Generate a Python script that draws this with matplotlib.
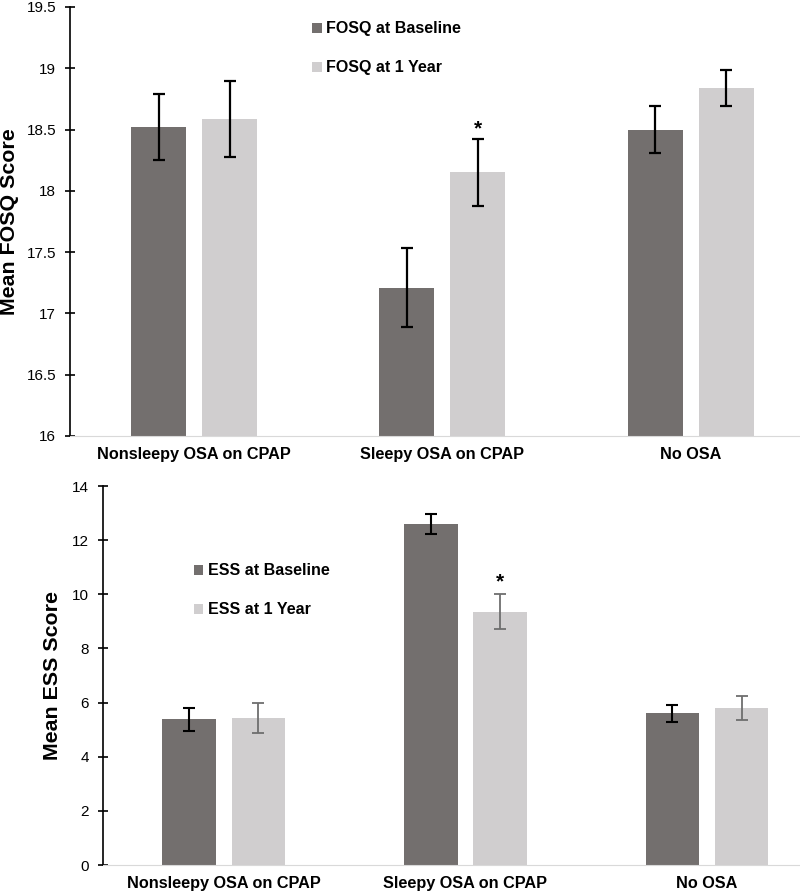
import matplotlib.pyplot as plt
import numpy as np

plt.rcParams['font.family'] = ['Liberation Sans', 'DejaVu Sans']

groups = ['Nonsleepy OSA on CPAP', 'Sleepy OSA on CPAP', 'No OSA']

fosq_base = [18.52, 17.21, 18.50]
fosq_base_err = [0.27, 0.32, 0.19]
fosq_1yr = [18.59, 18.15, 18.84]
fosq_1yr_err = [0.31, 0.27, 0.145]

ess_base = [5.38, 12.60, 5.60]
ess_base_err = [0.43, 0.38, 0.30]
ess_1yr = [5.43, 9.35, 5.80]
ess_1yr_err = [0.55, 0.65, 0.44]

dark = '#736f6e'
light = '#d0cecf'
w = 0.222
off = 0.143
x = np.arange(len(groups))

fig = plt.figure(figsize=(8, 8.93), dpi=100)


def style(ax, ymin, ymax, step, ylabel):
    ax.set_ylim(ymin, ymax)
    ax.set_yticks(np.arange(ymin, ymax + step / 2, step))
    ax.set_xlim(-0.5, 2.5)
    ax.set_xticks(x)
    ax.set_xticklabels(groups, fontsize=11.7, fontweight='bold')
    ax.tick_params(axis='x', length=0, pad=8)
    ax.tick_params(axis='y', direction='inout', length=7, width=1.2, labelsize=11, pad=6.5)
    ax.spines['top'].set_visible(False)
    ax.spines['right'].set_visible(False)
    ax.spines['bottom'].set_color('#d9d9d9')
    ax.spines['left'].set_color('black')
    ax.spines['left'].set_linewidth(1.2)
    ax.set_ylabel(ylabel, fontsize=15.4, fontweight='bold')


# top chart: FOSQ
ax1 = fig.add_axes([0.0875, 0.5118, 0.931, 0.4804])
ax1.bar(x - off, fosq_base, w, color=dark, label='FOSQ at Baseline')
ax1.bar(x + off, fosq_1yr, w, color=light, label='FOSQ at 1 Year')
ax1.errorbar(x - off, fosq_base, yerr=fosq_base_err, fmt='none', ecolor='black',
             elinewidth=1.6, capsize=4, capthick=1.6)
ax1.errorbar(x + off, fosq_1yr, yerr=fosq_1yr_err, fmt='none', ecolor='black',
             elinewidth=1.6, capsize=4, capthick=1.6)
style(ax1, 16, 19.5, 0.5, 'Mean FOSQ Score')
ax1.set_yticklabels(['16', '16.5', '17', '17.5', '18', '18.5', '19', '19.5'])
ax1.yaxis.set_label_coords(-0.068, 0.5)
ax1.text(1 + off, fosq_1yr[1] + fosq_1yr_err[1] + 0.01, '*', ha='center', va='bottom',
         fontsize=15, fontweight='bold')
ax1.legend(loc='upper left', bbox_to_anchor=(0.38, 0.985), bbox_transform=fig.transFigure,
           frameon=False, prop={'size': 11.5, 'weight': 'bold'}, handlelength=0.6,
           handleheight=0.6, handletextpad=0.3, labelspacing=1.5, borderpad=0)

# bottom chart: ESS
ax2 = fig.add_axes([0.12875, 0.03135, 0.906, 0.4244])
ax2.bar(x - off, ess_base, w, color=dark, label='ESS at Baseline')
ax2.bar(x + off, ess_1yr, w, color=light, label='ESS at 1 Year')
ax2.errorbar(x - off, ess_base, yerr=ess_base_err, fmt='none', ecolor='black',
             elinewidth=1.5, capsize=4, capthick=1.5)
ax2.errorbar(x + off, ess_1yr, yerr=ess_1yr_err, fmt='none', ecolor='#6e6e6e',
             elinewidth=1.3, capsize=4, capthick=1.3)
style(ax2, 0, 14, 2, 'Mean ESS Score')
ax2.yaxis.set_label_coords(-0.0566, 0.5)
ax2.text(1 + off, ess_1yr[1] + ess_1yr_err[1] + 0.09, '*', ha='center', va='bottom',
         fontsize=15, fontweight='bold')
ax2.legend(loc='upper left', bbox_to_anchor=(0.232, 0.378), bbox_transform=fig.transFigure,
           frameon=False, prop={'size': 11.5, 'weight': 'bold'}, handlelength=0.6,
           handleheight=0.6, handletextpad=0.3, labelspacing=1.5, borderpad=0)

fig.savefig('out.png', dpi=100)
